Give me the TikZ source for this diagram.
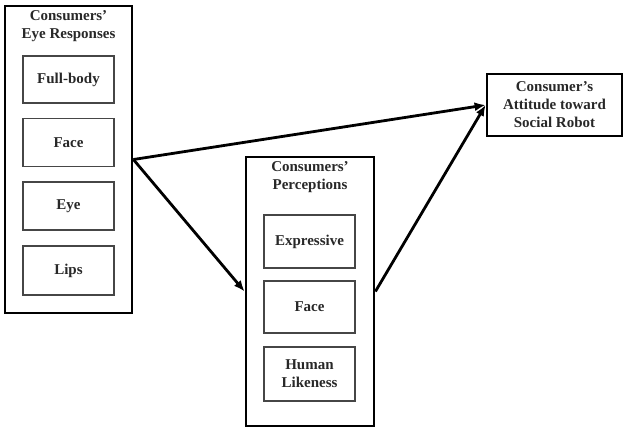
\documentclass[tikz,border=0pt]{standalone}
\usepackage{fontspec}
\setmainfont{Liberation Serif}
\usetikzlibrary{arrows.meta}
\definecolor{txtgray}{RGB}{40,40,40}
\definecolor{boxgray}{RGB}{70,70,70}
\begin{document}
\begin{tikzpicture}[x=1pt,y=-1pt,
  outerbox/.style={draw,line width=2.8pt,minimum width=#1,inner sep=0pt},
  innerbox/.style={draw=boxgray,line width=1.3pt,minimum width=91pt,inner sep=0pt,align=center,text=txtgray,font=\fontsize{15}{16}\selectfont\bfseries},
  ttl/.style={align=center,inner sep=0pt,text=txtgray,font=\fontsize{15}{18}\selectfont\bfseries},
  conn/.style={line width=2.8pt,-{Latex[length=11pt,width=9pt]}}]
\useasboundingbox (0,0) rectangle (632,429);
% left block
\node[outerbox=127pt,minimum height=307pt] (L) at (68.5,159.5) {};
\node[ttl] (Lt) at (68.5,26) {Consumers’\\Eye Responses};
\node[innerbox,minimum height=47pt] (L1) at (68.5,79.5) {Full-body};
\node[innerbox,minimum height=48pt] (L2) at (68.5,142.5) {Face};
\node[innerbox,minimum height=48pt] (L3) at (68.5,206) {Eye};
\node[innerbox,minimum height=49pt] (L4) at (68.5,270.5) {Lips};
% middle block
\node[outerbox=128pt,minimum height=269pt] (M) at (310,291.5) {};
\node[ttl] (Mt) at (310,177.5) {Consumers’\\Perceptions};
\node[innerbox,minimum height=53pt] (M1) at (309.5,241.5) {Expressive};
\node[innerbox,minimum height=52pt] (M2) at (309.5,307) {Face};
\node[innerbox,minimum height=54pt,font=\fontsize{15}{18}\selectfont\bfseries] (M3) at (309.5,374) {Human\\Likeness};
% right block
\node[outerbox=135pt,minimum height=62pt,align=center,text=txtgray,font=\fontsize{15}{18}\selectfont\bfseries] (R) at (554.5,105) {Consumer’s\\Attitude toward\\Social Robot};
% connectors
\draw[conn] (L.east) -- (R.west);
\draw[conn] (L.east) -- (M.west);
\draw[conn] (M.east) -- (R.west);
\end{tikzpicture}
\end{document}
